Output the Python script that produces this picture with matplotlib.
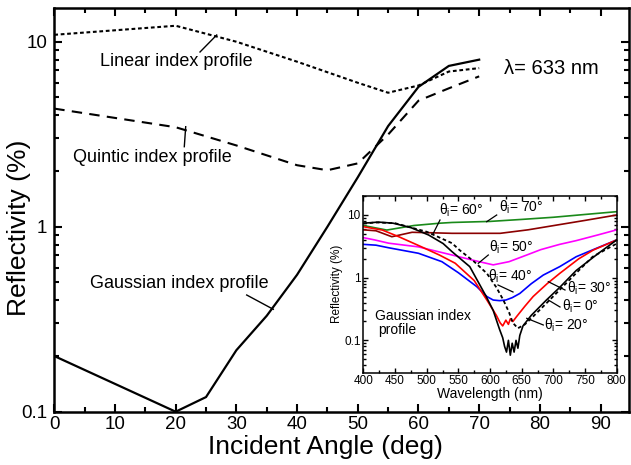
import matplotlib
matplotlib.use("Agg")
import matplotlib.pyplot as plt
from matplotlib.ticker import LogLocator, FuncFormatter, MultipleLocator, NullFormatter

plt.rcParams['font.family'] = ['Liberation Sans', 'DejaVu Sans']
plt.rcParams['mathtext.fontset'] = 'custom'
plt.rcParams['mathtext.rm'] = 'Liberation Sans'
plt.rcParams['mathtext.it'] = 'Liberation Sans'

# ---- main panel data (reflectivity vs incident angle, 633 nm) ----
ang_gauss = [0, 20, 25, 30, 35, 40, 45, 50, 55, 60, 65, 70]
r_gauss = [0.2, 0.10, 0.12, 0.215, 0.33, 0.55, 1.0, 1.85, 3.5, 5.7, 7.4, 8.0]

ang_linear = [0, 20, 30, 40, 50, 55, 60, 65, 70]
r_linear = [10.9, 12.2, 10.0, 7.8, 6.0, 5.3, 5.8, 6.9, 7.2]

ang_quintic = [0, 20, 30, 40, 45, 50, 55, 60, 65, 70]
r_quintic = [4.35, 3.45, 2.75, 2.15, 2.02, 2.2, 3.15, 4.8, 5.6, 6.5]

# ---- inset data (reflectivity spectra, gaussian profile) ----
wl_0 = [400, 420, 450, 500, 540, 552, 575, 595, 610, 621, 630, 636, 644, 655, 668, 690, 710, 740, 762, 800]
r_0 = [7.3, 7.6, 7.4, 5.4, 3.55, 2.75, 1.8, 1.17, 0.7, 0.44, 0.28, 0.19, 0.156, 0.18, 0.24, 0.4, 0.64, 1.3, 2.16, 3.5]

wl_20 = [400, 424, 447, 475, 503, 526, 540, 568, 594, 605, 615, 620, 623, 626, 629, 632, 635,
         638, 641, 644, 647, 652, 665, 689, 710, 736, 770, 800]
r_20 = [7.4, 7.7, 7.4, 6.3, 4.8, 3.5, 2.6, 1.5, 0.5, 0.3, 0.15, 0.11, 0.08, 0.065, 0.1, 0.058,
        0.09, 0.065, 0.1, 0.075, 0.12, 0.17, 0.25, 0.44, 0.7, 1.3, 2.4, 4.0]

wl_30 = [400, 430, 456, 492, 520, 545, 575, 595, 610, 616, 620, 625, 629, 632, 636, 642, 655, 668, 690, 710, 740, 763, 800]
r_30 = [6.5, 5.75, 4.5, 3.1, 2.3, 1.7, 0.9, 0.44, 0.25, 0.19, 0.17, 0.21, 0.18, 0.22, 0.2, 0.24, 0.35, 0.5, 0.8, 1.17, 2.0, 2.76, 4.0]

wl_40 = [400, 420, 440, 487, 524, 550, 579, 595, 605, 615, 625, 635, 647, 665, 684, 710, 736, 770, 800]
r_40 = [3.4, 3.3, 3.0, 2.45, 1.8, 1.2, 0.72, 0.5, 0.44, 0.43, 0.44, 0.48, 0.56, 0.8, 1.1, 1.5, 2.16, 3.0, 4.0]

wl_50 = [400, 418, 440, 487, 540, 573, 605, 630, 658, 680, 710, 736, 770, 800]
r_50 = [4.35, 4.0, 3.55, 3.1, 2.3, 1.9, 1.6, 1.8, 2.3, 2.8, 3.4, 3.9, 4.8, 5.8]

wl_60 = [400, 420, 445, 477, 540, 616, 660, 705, 750, 800]
r_60 = [5.8, 5.6, 4.5, 5.3, 5.1, 5.1, 5.8, 6.9, 8.2, 10.0]

wl_70 = [400, 437, 480, 521, 540, 600, 650, 700, 750, 800]
r_70 = [6.8, 5.75, 6.8, 7.4, 7.6, 7.9, 8.5, 9.2, 10.2, 11.3]

W, H = 631.0, 465.0

fig = plt.figure(figsize=(6.31, 4.65), dpi=100)
ax = fig.add_axes([0.086, 0.1146, 0.911, 0.868])

ax.plot(ang_gauss, r_gauss, color='black', lw=1.6, solid_joinstyle='miter')
ax.plot(ang_linear, r_linear, color='black', lw=1.5, linestyle=(0, (1.8, 1.3)))
ax.plot(ang_quintic, r_quintic, color='black', lw=1.5, linestyle=(0, (5, 3.5)))

ax.set_yscale('log')
ax.set_xlim(0, 94.7)
ax.set_ylim(0.1, 15.2)
ax.xaxis.set_major_locator(MultipleLocator(10))
ax.xaxis.set_minor_locator(MultipleLocator(5))
ax.yaxis.set_major_locator(LogLocator(base=10))
ax.yaxis.set_minor_locator(LogLocator(base=10, subs=range(2, 10)))
ax.yaxis.set_major_formatter(FuncFormatter(lambda v, _: f'{v:g}'))
ax.yaxis.set_minor_formatter(NullFormatter())
ax.tick_params(which='both', direction='in', top=True, right=True, width=1.5)
ax.tick_params(which='major', length=6, labelsize=13.5)
ax.tick_params(axis='x', which='major', pad=3)
ax.tick_params(axis='y', which='major', pad=5)
ax.tick_params(which='minor', length=3.5)
for s in ax.spines.values():
    s.set_linewidth(1.8)
ax.set_xlabel('Incident Angle (deg)', fontsize=19)
ax.set_ylabel('Reflectivity (%)', fontsize=19)
ax.xaxis.set_label_coords(0.471, -0.058)
ax.yaxis.set_label_coords(-0.041, 0.455)


def fig_line(x0, y0, x1, y1, lw=1.0):
    # leader line in image pixel coordinates (y from top)
    fig.add_artist(plt.Line2D([x0 / W, x1 / W], [1 - y0 / H, 1 - y1 / H],
                              color='black', lw=lw, transform=fig.transFigure))


def px_text(x, y, s, **kw):
    fig.text(x / W, 1 - y / H, s, **kw)


# labels with leader lines
px_text(176, 61, 'Linear index profile', fontsize=13, ha='center', va='center')
px_text(152, 157, 'Quintic index profile', fontsize=13, ha='center', va='center')
px_text(179, 283, 'Gaussian index profile', fontsize=13, ha='center', va='center')
px_text(551, 68, 'λ= 633 nm', fontsize=14.5, ha='center', va='center')

fig_line(200, 52, 216.7, 35)
fig_line(184.3, 146.7, 185.7, 126.7)
fig_line(246.7, 295, 273.3, 309.3)

# ---- inset ----
ins = fig.add_axes([0.5758, 0.1989, 0.4016, 0.3802])
ins.set_facecolor('white')
ins.plot(wl_70, r_70, color='#1a8a1a', lw=1.2)
ins.plot(wl_60, r_60, color='#8b0000', lw=1.2)
ins.plot(wl_50, r_50, color='#ff00ff', lw=1.2)
ins.plot(wl_40, r_40, color='#0000ff', lw=1.2)
ins.plot(wl_30, r_30, color='#ff0000', lw=1.2)
ins.plot(wl_0, r_0, color='black', lw=1.3, linestyle=(0, (2, 1.5)))
ins.plot(wl_20, r_20, color='black', lw=1.2)

ins.set_yscale('log')
ins.set_xlim(400, 800)
ins.set_ylim(0.0307, 20.3)
ins.xaxis.set_major_locator(MultipleLocator(50))
ins.xaxis.set_minor_locator(MultipleLocator(25))
ins.yaxis.set_major_locator(LogLocator(base=10))
ins.yaxis.set_minor_locator(LogLocator(base=10, subs=range(2, 10)))
ins.yaxis.set_major_formatter(FuncFormatter(lambda v, _: f'{v:g}'))
ins.yaxis.set_minor_formatter(NullFormatter())
ins.tick_params(which='both', direction='in', top=True, right=True, width=1.0)
ins.tick_params(which='major', length=3.5, labelsize=8.5, pad=2)
ins.tick_params(which='minor', length=2)
for s in ins.spines.values():
    s.set_linewidth(1.1)
ins.set_xlabel('Wavelength (nm)', fontsize=10, labelpad=0)
ins.set_ylabel('Reflectivity (%)', fontsize=8.5, labelpad=1)

px_text(375, 316, 'Gaussian index', fontsize=10, ha='left', va='center')
px_text(378, 330, 'profile', fontsize=10, ha='left', va='center')

theta_labels = ['60', '70', '50', '40', '30', '0', '20']
theta_pos = [(461, 210), (521, 207), (511, 247), (510, 276), (589, 288), (580, 306), (566, 325)]
for lab, (x, y) in zip(theta_labels, theta_pos):
    px_text(x, y, r'$\theta_\mathrm{i}$= ' + lab + '°', fontsize=10, ha='center', va='center')

fig_line(440, 220, 433.3, 233.3, 0.9)
fig_line(496.7, 215, 486.7, 221.7, 0.9)
fig_line(488.3, 255, 478.3, 263.3, 0.9)
fig_line(498, 285, 513, 292, 0.9)
fig_line(565, 290, 548.3, 281.7, 0.9)
fig_line(560, 307, 548.3, 300, 0.9)
fig_line(543.3, 325, 526.7, 318.3, 0.9)

fig.savefig('out.png', dpi=100)
